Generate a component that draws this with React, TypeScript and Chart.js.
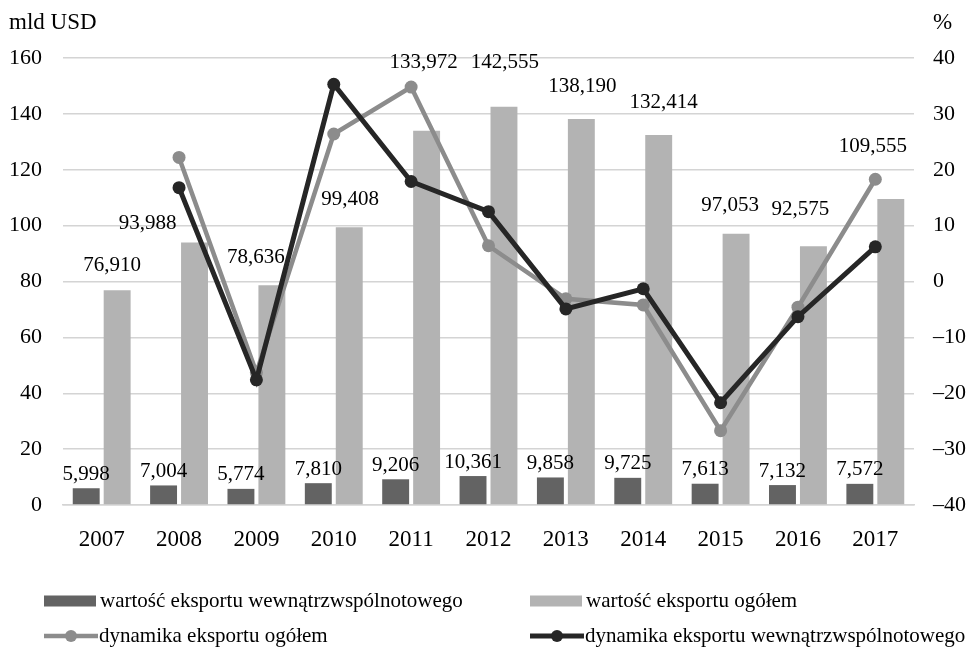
import { useEffect, useRef } from "react";
import { Chart, registerables } from "chart.js";

Chart.register(...registerables);

const years = ["2007", "2008", "2009", "2010", "2011", "2012", "2013", "2014", "2015", "2016", "2017"];
const intraExport = [5.998, 7.004, 5.774, 7.81, 9.206, 10.361, 9.858, 9.725, 7.613, 7.132, 7.572];
const totalExport = [76.91, 93.988, 78.636, 99.408, 133.972, 142.555, 138.19, 132.414, 97.053, 92.575, 109.555];
const totalDynamics = [null, 22.2, -16.3, 26.4, 34.8, 6.4, -3.1, -4.2, -26.7, -4.6, 18.3];
const intraDynamics = [null, 16.8, -17.6, 35.3, 17.9, 12.5, -4.9, -1.3, -21.7, -6.3, 6.2];

const seriesNames = [
  "wartość eksportu wewnątrzwspólnotowego",
  "wartość eksportu ogółem",
  "dynamika eksportu ogółem",
  "dynamika eksportu wewnątrzwspólnotowego",
];
const leftTitle = "mld USD";
const rightTitle = "%";

// label placement offsets (px) for the total-export labels, relative to bar top centre
const totalLabelOffsets = [
  [-5, -25], [-47, -19], [-16, -28], [1, -28], [-3, -68], [1, -44],
  [1, -32], [5, -33], [-6, -28], [-13, -37], [-18, -52],
];

const FONT = '"Liberation Serif", "Times New Roman", serif';
const fmt = (v: number) => v.toFixed(3).replace(".", ",");

const barLabelPlugin = {
  id: "barLabels",
  afterDatasetsDraw(chart: any) {
    const ctx = chart.ctx;
    ctx.save();
    ctx.font = `21px ${FONT}`;
    ctx.fillStyle = "#000";
    ctx.textAlign = "center";
    ctx.textBaseline = "middle";
    [0, 1].forEach((di) => {
      const meta = chart.getDatasetMeta(di);
      meta.data.forEach((bar: any, i: number) => {
        const v = chart.data.datasets[di].data[i] as number;
        const off = di === 0 ? [0, -14] : totalLabelOffsets[i];
        ctx.fillText(fmt(v), bar.x + off[0], bar.y + off[1]);
      });
    });
    ctx.restore();
  },
};

const decorPlugin = {
  id: "decor",
  afterDraw(chart: any) {
    const ctx = chart.ctx;
    const area = chart.chartArea;
    ctx.save();
    ctx.fillStyle = "#000";
    ctx.font = `23px ${FONT}`;
    ctx.textBaseline = "middle";
    ctx.textAlign = "left";
    ctx.fillText(leftTitle, 9, area.top - 35);
    ctx.fillText(rightTitle, area.right + 19, area.top - 35);

    // legend
    const ds = chart.data.datasets;
    const cols = [44, 530];
    const rows = [601, 636];
    ctx.font = `21px ${FONT}`;
    ds.forEach((d: any, i: number) => {
      const x = cols[i % 2];
      const y = rows[Math.floor(i / 2)];
      if (d.type === "line") {
        ctx.strokeStyle = d.borderColor;
        ctx.lineWidth = d.borderWidth;
        ctx.beginPath();
        ctx.moveTo(x, y);
        ctx.lineTo(x + 54, y);
        ctx.stroke();
        ctx.fillStyle = d.pointBackgroundColor;
        ctx.beginPath();
        ctx.arc(x + 27, y, 6, 0, Math.PI * 2);
        ctx.fill();
        ctx.fillStyle = "#000";
        ctx.fillText(d.label, x + 55, y);
      } else {
        ctx.fillStyle = d.backgroundColor;
        ctx.fillRect(x, y - 5.5, 52, 11);
        ctx.fillStyle = "#000";
        ctx.fillText(d.label, x + 56, y);
      }
    });
    ctx.restore();
  },
};

export default function App() {
  const ref = useRef<HTMLCanvasElement | null>(null);

  useEffect(() => {
    document.body.style.margin = "0";
    if (!ref.current) return;
    const chart = new Chart(ref.current, {
      type: "bar",
      data: {
        labels: years,
        datasets: [
          {
            type: "bar",
            label: seriesNames[0],
            data: intraExport,
            backgroundColor: "#636363",
            yAxisID: "y",
            order: 3,
            barPercentage: 0.87,
            categoryPercentage: 0.8,
          },
          {
            type: "bar",
            label: seriesNames[1],
            data: totalExport,
            backgroundColor: "#b3b3b3",
            yAxisID: "y",
            order: 3,
            barPercentage: 0.87,
            categoryPercentage: 0.8,
          },
          {
            type: "line",
            label: seriesNames[2],
            data: totalDynamics,
            borderColor: "#8c8c8c",
            backgroundColor: "#8c8c8c",
            pointBackgroundColor: "#8c8c8c",
            pointBorderColor: "#8c8c8c",
            borderWidth: 4.5,
            pointRadius: 6.5,
            pointBorderWidth: 0,
            yAxisID: "y1",
            order: 2,
          } as any,
          {
            type: "line",
            label: seriesNames[3],
            data: intraDynamics,
            borderColor: "#262626",
            backgroundColor: "#262626",
            pointBackgroundColor: "#262626",
            pointBorderColor: "#262626",
            borderWidth: 5,
            pointRadius: 6.5,
            pointBorderWidth: 0,
            yAxisID: "y1",
            order: 1,
          } as any,
        ],
      },
      options: {
        animation: false,
        responsive: true,
        maintainAspectRatio: false,
        layout: { padding: { top: 58, left: 0, right: 0, bottom: 0 } },
        plugins: {
          legend: { display: false },
          tooltip: { enabled: false },
        },
        scales: {
          x: {
            grid: { display: false, drawTicks: false },
            border: { display: true, color: "#d4d4d4", width: 1.5 },
            ticks: { color: "#000", font: { family: FONT, size: 23 }, padding: 21 },
            afterFit: (s: any) => {
              s.height = 147;
            },
          },
          y: {
            position: "left",
            min: 0,
            max: 160,
            ticks: { stepSize: 20, color: "#000", font: { family: FONT, size: 22 }, padding: 21 },
            grid: { color: "#d4d4d4", lineWidth: 1.5, drawTicks: false },
            border: { display: false },
            afterFit: (s: any) => {
              s.width = 63;
            },
          },
          y1: {
            position: "right",
            min: -40,
            max: 40,
            ticks: {
              stepSize: 10,
              color: "#000",
              font: { family: FONT, size: 22 },
              padding: 19,
              callback: (v: any) => String(v).replace("-", "\u2013"),
            },
            grid: { display: false, drawTicks: false },
            border: { display: false },
            afterFit: (s: any) => {
              s.width = 59;
            },
          },
        },
      },
      plugins: [barLabelPlugin, decorPlugin],
    });
    return () => chart.destroy();
  }, []);

  return (
    <div style={{ width: 973, height: 652, position: "relative" }}>
      <canvas ref={ref} />
    </div>
  );
}
